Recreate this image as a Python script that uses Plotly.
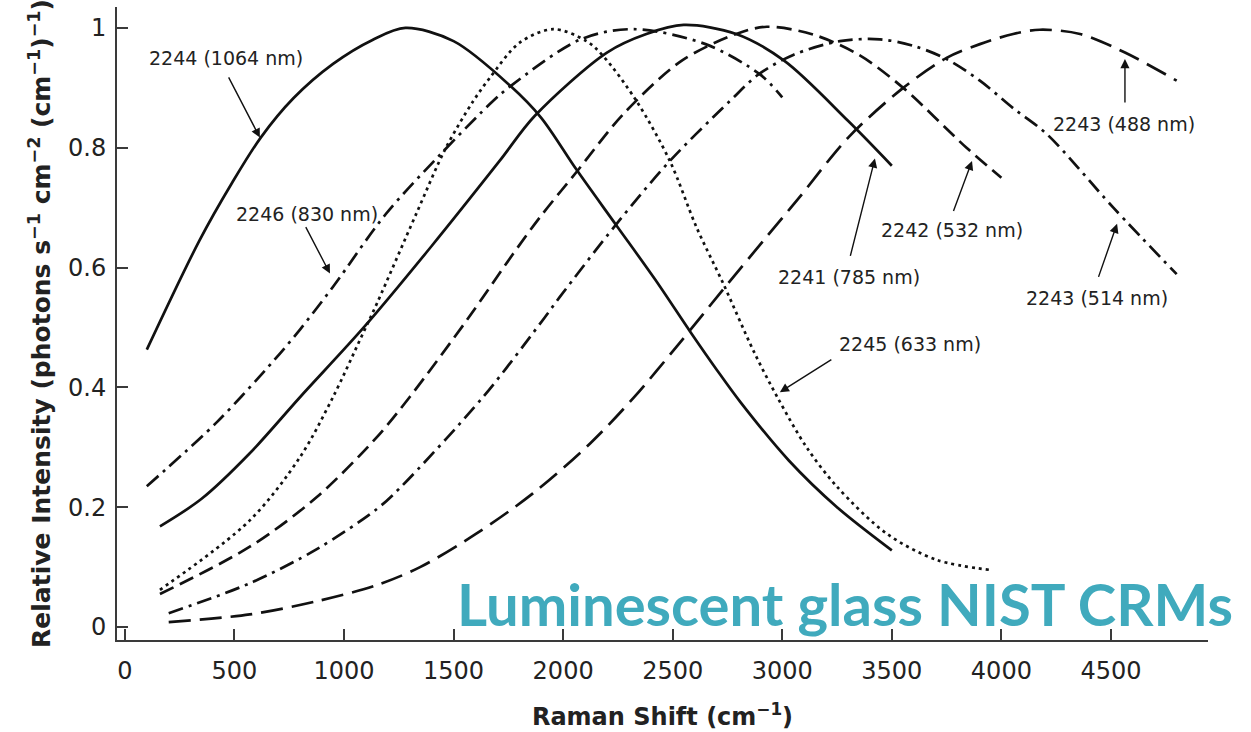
import plotly.graph_objects as go

# ---- data ----
x_1064 = [100, 340, 490, 620, 770, 950, 1130, 1280, 1500, 1760, 1900, 2060, 2240, 2420, 2580, 2700, 2810, 3030, 3250, 3500]
y_1064 = [0.463, 0.645, 0.742, 0.817, 0.883, 0.94, 0.98, 1.0, 0.978, 0.903, 0.85, 0.764, 0.672, 0.58, 0.493, 0.43, 0.375, 0.278, 0.2, 0.128]

x_830 = [100, 420, 680, 800, 950, 1190, 1440, 1680, 1760, 2080, 2320, 2650, 2900, 3000]
y_830 = [0.235, 0.342, 0.445, 0.497, 0.568, 0.689, 0.789, 0.878, 0.903, 0.981, 0.998, 0.973, 0.922, 0.884]

x_785 = [160, 350, 570, 800, 1090, 1400, 1710, 1870, 2200, 2380, 2550, 2790, 3010, 3300, 3500]
y_785 = [0.168, 0.214, 0.29, 0.384, 0.5, 0.636, 0.778, 0.853, 0.959, 0.99, 1.005, 0.99, 0.945, 0.845, 0.77]

x_633 = [160, 570, 800, 950, 1080, 1150, 1330, 1465, 1590, 1666, 1800, 1955, 2107, 2183, 2335, 2487, 2609, 2731, 2870, 2980, 3111, 3248, 3476, 3705, 3955]
y_633 = [0.062, 0.178, 0.284, 0.384, 0.485, 0.54, 0.69, 0.8, 0.878, 0.917, 0.975, 0.998, 0.978, 0.953, 0.878, 0.778, 0.667, 0.573, 0.46, 0.382, 0.3, 0.235, 0.156, 0.112, 0.095]

x_532 = [160, 570, 876, 1150, 1300, 1560, 1772, 1894, 2062, 2274, 2540, 2790, 2930, 3141, 3350, 3552, 3841, 4000]
y_532 = [0.055, 0.134, 0.217, 0.317, 0.384, 0.512, 0.623, 0.684, 0.76, 0.856, 0.945, 0.99, 1.002, 0.989, 0.955, 0.9, 0.8, 0.75]

x_514 = [200, 570, 876, 1150, 1255, 1635, 1894, 1985, 2244, 2487, 2761, 2890, 3050, 3263, 3446, 3600, 3750, 3902, 4054, 4207, 4511, 4800]
y_514 = [0.023, 0.073, 0.13, 0.197, 0.232, 0.384, 0.506, 0.551, 0.673, 0.778, 0.878, 0.922, 0.955, 0.978, 0.981, 0.97, 0.948, 0.912, 0.866, 0.823, 0.7, 0.589]

x_488 = [200, 570, 876, 1150, 1347, 1600, 1862, 2122, 2320, 2518, 2738, 2989, 3080, 3301, 3552, 3750, 3902, 4054, 4176, 4359, 4564, 4800]
y_488 = [0.008, 0.021, 0.043, 0.07, 0.1, 0.155, 0.223, 0.306, 0.382, 0.468, 0.567, 0.678, 0.718, 0.817, 0.9, 0.95, 0.973, 0.99, 0.997, 0.99, 0.959, 0.912]

x_ticks = [0, 500, 1000, 1500, 2000, 2500, 3000, 3500, 4000, 4500]
y_ticks = [0, 0.2, 0.4, 0.6, 0.8, 1]
y_ticklabels = ["0", "0.2", "0.4", "0.6", "0.8", "1"]

labels = ["2244 (1064 nm)", "2246 (830 nm)", "2241 (785 nm)", "2245 (633 nm)",
          "2242 (532 nm)", "2243 (514 nm)", "2243 (488 nm)"]

INK = "#111111"
AX = "#3a3a3a"
TEAL = "#40AABD"

series = [
    (x_1064, y_1064, "solid"),
    (x_830, y_830, "15px,6px,3px,6px"),
    (x_785, y_785, "solid"),
    (x_633, y_633, "3px,4px"),
    (x_532, y_532, "15px,7px"),
    (x_514, y_514, "15px,6px,3px,6px"),
    (x_488, y_488, "22px,9px"),
]

fig = go.Figure()
for (xs, ys, dash), name in zip(series, labels):
    fig.add_trace(go.Scatter(x=xs, y=ys, mode="lines", name=name,
                             line=dict(color=INK, width=2.7, dash=dash, shape="spline", smoothing=0.9)))

# label positions (text centre) and arrow tail -> tip, in data units
label_pos = [(461, 0.95), (831, 0.69), (3304, 0.585), (3583, 0.473),
             (3775, 0.662), (4436, 0.55), (4560, 0.84)]
arrows = [((470, 0.92), (616, 0.817)),
          ((822, 0.67), (936, 0.59)),
          ((3309, 0.617), (3423, 0.782)),
          ((3231, 0.448), (2989, 0.392)),
          ((3779, 0.692), (3866, 0.778)),
          ((4441, 0.582), (4528, 0.673)),
          ((4564, 0.873), (4564, 0.948))]

ann = []
for name, (tx, ty) in zip(labels, label_pos):
    ann.append(dict(x=tx, y=ty, xref="x", yref="y", text=name, showarrow=False,
                    font=dict(family="DejaVu Sans", size=19, color="#222222")))
for (tail, tip) in arrows:
    ann.append(dict(x=tip[0], y=tip[1], ax=tail[0], ay=tail[1], xref="x", yref="y",
                    axref="x", ayref="y", text="", showarrow=True,
                    arrowhead=2, arrowsize=1.3, arrowwidth=1.4, arrowcolor=INK, standoff=0))

ann.append(dict(x=1.0247, y=0.0, xref="paper", yref="paper", xanchor="right", yanchor="bottom",
                text="<b>Luminescent glass NIST CRMs</b>", showarrow=False,
                font=dict(family="Lato", size=58, color=TEAL)))

fig.update_layout(
    width=1251, height=732,
    margin=dict(l=117, r=43, t=7, b=92),
    paper_bgcolor="white", plot_bgcolor="white",
    showlegend=False,
    font=dict(family="DejaVu Sans", color="#222222"),
    annotations=ann,
)
fig.update_xaxes(
    range=[-36, 4943], tickvals=x_ticks, ticks="inside", ticklen=11, tickwidth=2, tickcolor=AX,
    showline=True, linecolor=AX, linewidth=2, showgrid=False, zeroline=False,
    tickfont=dict(size=24, color="#222222"), ticklabelstandoff=8,
    title=dict(text="<b>Raman Shift (cm<sup>−1</sup>)</b>", font=dict(size=24, color="#222222"), standoff=24),
)
fig.update_yaxes(
    range=[-0.0217, 1.035], tickvals=y_ticks, ticktext=y_ticklabels, ticks="inside", ticklen=11,
    tickwidth=2, tickcolor=AX, showline=True, linecolor=AX, linewidth=2, showgrid=False, zeroline=False,
    tickfont=dict(size=24, color="#222222"), ticklabelstandoff=4,
    title=dict(text="<b>Relative Intensity (photons s<sup>−1</sup> cm<sup>−2</sup> (cm<sup>−1</sup>)<sup>−1</sup>)</b>",
               font=dict(size=25, color="#222222"), standoff=10),
)

fig.write_html("out.html")
